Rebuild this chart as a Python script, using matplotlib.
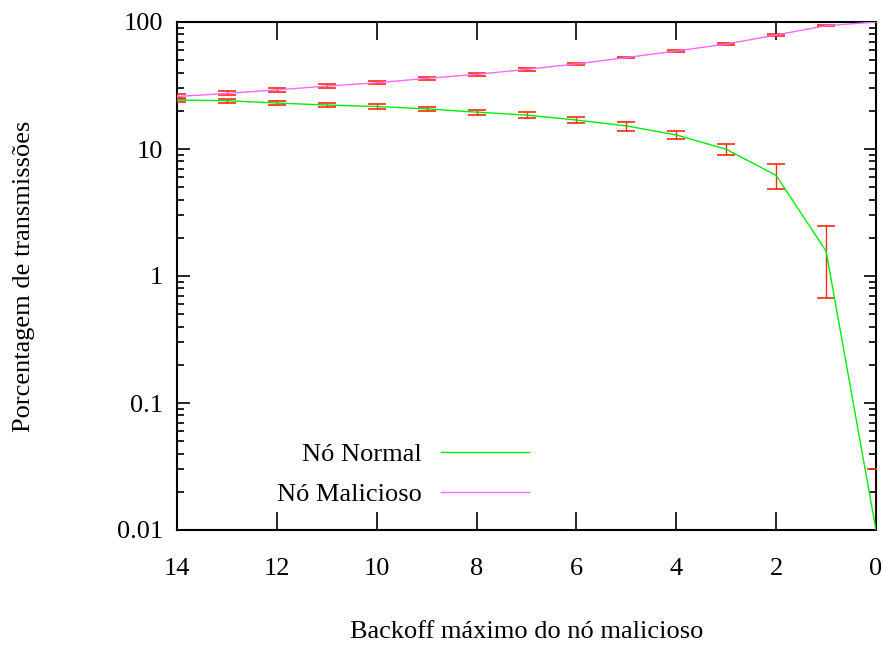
import numpy as np
import matplotlib
matplotlib.use("Agg")
from matplotlib import pyplot as plt
from matplotlib.ticker import LogLocator, FixedLocator, NullFormatter

plt.rcParams['font.family'] = ['Liberation Serif', 'DejaVu Serif']

# Backoff maximo do no malicioso
backoff = [14, 13, 12, 11, 10, 9, 8, 7, 6, 5, 4, 3, 2, 1, 0]

# No Normal
normal = [24.3, 24.0, 23.0, 22.2, 21.6, 20.7, 19.5, 18.5, 16.9, 15.2, 12.9, 9.95, 6.2, 1.57, 0.01]
normal_err = [1.0, 0.9, 0.9, 0.9, 0.9, 0.9, 0.9, 1.0, 1.0, 1.25, 1.0, 1.05, 1.4, 0.9, 0.02]

# No Malicioso
malicioso = [25.9, 27.4, 29.2, 31.3, 33.2, 36.0, 38.7, 42.4, 46.7, 52.5, 59.1, 67.0, 79.0, 93.5, 100.0]
malicioso_err = [1.0, 1.0, 1.0, 1.0, 0.9, 0.9, 0.9, 0.9, 0.9, 0.9, 0.9, 0.9, 1.0, 0.9, 0.5]

fig = plt.figure(figsize=(8.87, 6.46), dpi=100)
ax = fig.add_axes([177 / 887, 1 - 530 / 646, (876 - 177) / 887, (530 - 22) / 646])

ax.plot(backoff, normal, color='#00ee00', linewidth=1, label='Nó Normal', zorder=5)
ax.plot(backoff, malicioso, color='#ff66ff', linewidth=1, label='Nó Malicioso', zorder=5)

# error bars: lower end kept above zero for the log axis
n_low = [min(e, v * 0.999) for v, e in zip(normal, normal_err)]
m_low = [min(e, v * 0.999) for v, e in zip(malicioso, malicioso_err)]
ax.errorbar(backoff, normal, yerr=[n_low, normal_err], fmt='none', ecolor='#ff2a10',
            elinewidth=1, capsize=6.5, capthick=1.2, zorder=4)
ax.errorbar(backoff, malicioso, yerr=[m_low, malicioso_err], fmt='none', ecolor='#ff2a10',
            elinewidth=1, capsize=6.5, capthick=1.2, zorder=4)

ax.set_yscale('log')
ax.set_ylim(0.01, 100)
ax.set_xlim(14, 0)

ax.xaxis.set_major_locator(FixedLocator([14, 12, 10, 8, 6, 4, 2, 0]))
ax.yaxis.set_major_locator(FixedLocator([0.01, 0.1, 1, 10, 100]))
ax.set_yticklabels(['0.01', '0.1', '1', '10', '100'])
ax.yaxis.set_minor_locator(LogLocator(base=10, subs=np.arange(2, 10)))
ax.yaxis.set_minor_formatter(NullFormatter())

ax.tick_params(axis='both', which='both', direction='in', top=True, right=True,
               labelsize=19, width=1.2, colors='black')
ax.tick_params(axis='x', which='major', length=13, pad=20.5)
ax.tick_params(axis='y', which='major', length=9, pad=10)
ax.tick_params(axis='y', which='minor', length=5)

for s in ax.spines.values():
    s.set_linewidth(1.5)

ax.set_xlabel('Backoff máximo do nó malicioso', fontsize=19, labelpad=29.5)
ax.set_ylabel('Porcentagem de transmissões', fontsize=19, labelpad=59)

leg = ax.legend(loc='lower left', bbox_to_anchor=(0.109, 0.0), frameon=False, fontsize=19,
                markerfirst=False, handlelength=3.33, handletextpad=0.72, labelspacing=0.62)
for t in leg.get_texts():
    t.set_ha('right')

fig.savefig('out.png', dpi=100)
